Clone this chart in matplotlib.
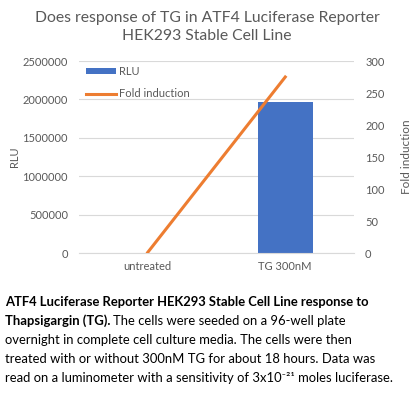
import matplotlib.pyplot as plt
import numpy as np

# Data
categories = ['untreated', 'TG 300nM']
rlu = [2500, 1966000]
fold = [1, 275]

rlu_ticks = [0, 500000, 1000000, 1500000, 2000000, 2500000]
fold_ticks = [0, 50, 100, 150, 200, 250, 300]

plt.rcParams['font.family'] = ['Lato', 'DejaVu Sans']
gray = '#595959'

fig = plt.figure(figsize=(4.14, 3.99), dpi=100)
ax = fig.add_axes([79 / 414, 1 - 253 / 399, 275 / 414, 192 / 399])
ax2 = ax.twinx()

x = np.arange(len(categories))
ax.bar(x, rlu, width=0.4, color='#4472C4', label='RLU', zorder=2)
ax2.plot(x, fold, color='#ED7D31', lw=2.2, label='Fold induction', zorder=3)

ax.set_xlim(-0.5, 1.5)
ax.set_ylim(0, 2500000)
ax2.set_ylim(0, 300)
ax.set_yticks(rlu_ticks)
ax.set_yticklabels([str(t) for t in rlu_ticks])
ax2.set_yticks(fold_ticks)
ax.set_xticks(x)
ax.set_xticklabels(categories)
ax.grid(axis='y', color='#d9d9d9', lw=0.8, zorder=0)
ax.set_axisbelow(True)

for a in (ax, ax2):
    for s in a.spines.values():
        s.set_visible(False)
    a.tick_params(length=0, labelsize=8, colors=gray, pad=8)
ax.spines['bottom'].set_visible(True)
ax.spines['bottom'].set_color('#d9d9d9')
ax.tick_params(axis='x', pad=6)

ax.set_ylabel('RLU', fontsize=8, color=gray, labelpad=2)
ax2.set_ylabel('Fold induction', fontsize=8.5, color=gray, labelpad=12)

h1, l1 = ax.get_legend_handles_labels()
h2, l2 = ax2.get_legend_handles_labels()
ax2.legend(h1 + h2, l1 + l2, loc='upper left', bbox_to_anchor=(0.0, 1.01),
           frameon=False, fontsize=8, labelcolor=gray, handlelength=2.7,
           handleheight=0.5, labelspacing=1.05, handletextpad=0.3, borderaxespad=0.2)

fig.text(0.5, 1 - 27 / 399, 'Does response of TG in ATF4 Luciferase Reporter\nHEK293 Stable Cell Line',
         ha='center', va='center', fontsize=11.3, color=gray, linespacing=1.3)

# Caption
cap_size = 9.4
t1 = fig.text(5 / 414, 1 - 302 / 399, 'ATF4 Luciferase Reporter HEK293 Stable Cell Line response to',
              fontsize=cap_size, fontweight='bold', va='center', ha='left')
t2 = fig.text(5 / 414, 1 - 321 / 399, 'Thapsigargin (TG).', fontsize=cap_size,
              fontweight='bold', va='center', ha='left')
fig.canvas.draw()
renderer = fig.canvas.get_renderer()
bb = t2.get_window_extent(renderer)
fig.text((bb.x1 + 3) / 414, 1 - 321 / 399, 'The cells were seeded on a 96-well plate',
         fontsize=cap_size, va='center', ha='left')
lines = ['overnight in complete cell culture media. The cells were then',
         'treated with or without 300nM TG for about 18 hours. Data was',
         'read on a luminometer with a sensitivity of 3x10\u207b\u00b2\u00b9 moles luciferase.']
for i, line in enumerate(lines):
    fig.text(5 / 414, 1 - (340 + 19 * i) / 399, line, fontsize=cap_size, va='center', ha='left')

fig.savefig('out.png', dpi=100)
